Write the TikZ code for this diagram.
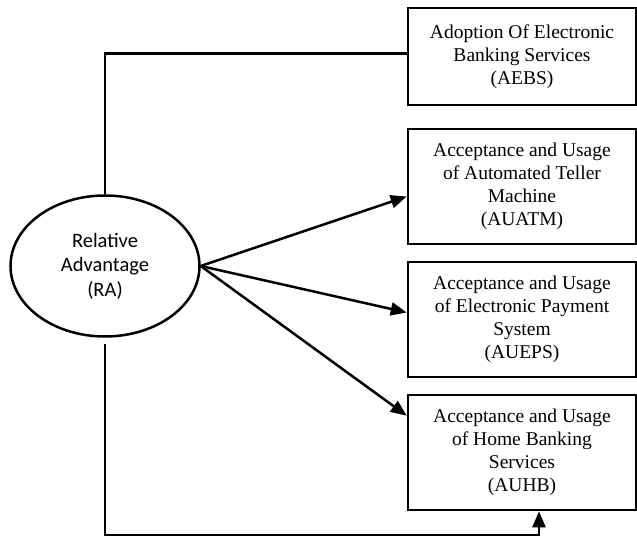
\documentclass[tikz,border=0pt]{standalone}
\usepackage{fontspec}
\setmainfont{Liberation Serif}
\newfontfamily\calibrifont{Carlito}
\usetikzlibrary{arrows.meta,shapes.geometric}

\tikzset{
    box/.style={draw, line width=2.6pt, minimum width=228pt, align=center, inner sep=0pt,
        font=\fontsize{19.5}{23}\selectfont},
    link/.style={line width=2.5pt},
    arrow/.style={link, -{Triangle[length=16pt,width=13pt]}}
}

\begin{document}
\begin{tikzpicture}[x=1pt,y=1pt]
    \useasboundingbox (0,0) rectangle (637,543);

    % Independent construct
    \node[ellipse, draw, line width=2.5pt, minimum width=189pt, minimum height=141pt,
        align=center, inner sep=0pt, font=\calibrifont\fontsize{20.5}{24.5}\selectfont]
        (ra) at (105,277) {Relative\\Advantage\\(RA)};

    % Dependent constructs
    \node[box, minimum height=97pt] (aebs) at (522,486.5) {Adoption Of Electronic\\Banking Services\\(AEBS)};
    \node[box, minimum height=115pt] (auatm) at (522,356.5) {Acceptance and Usage\\of Automated Teller\\Machine\\(AUATM)};
    \node[box, minimum height=115pt] (aueps) at (522,223.5) {Acceptance and Usage\\of Electronic Payment\\System\\(AUEPS)};
    \node[box, minimum height=115pt] (auhb) at (522,90.5) {Acceptance and Usage\\of Home Banking\\Services\\(AUHB)};

    % Links
    \draw[link] (ra.north) |- ([yshift=3pt]aebs.west);
    \draw[arrow] (ra.east) -- ([yshift=-10pt]auatm.west);
    \draw[arrow] (ra.east) -- ([yshift=7pt]aueps.west);
    \draw[arrow] (ra.east) -- ([yshift=-22pt]auhb.north west);
    \coordinate (turn) at (539,8);
    \draw[arrow] ([yshift=-6pt]ra.south) |- (turn) -- (turn |- auhb.south);
\end{tikzpicture}
\end{document}
